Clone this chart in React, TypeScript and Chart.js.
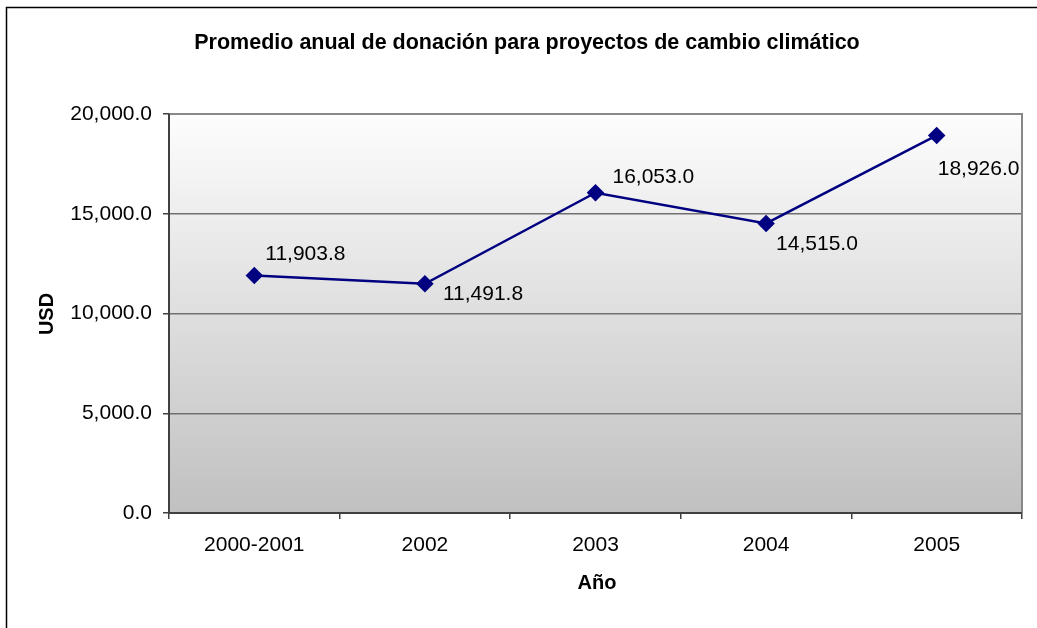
import React, { useEffect, useRef } from "react";
import { Chart, registerables } from "chart.js";

Chart.register(...registerables);

const categories = ["2000-2001", "2002", "2003", "2004", "2005"];
const donationValues = [11903.8, 11491.8, 16053.0, 14515.0, 18926.0];
const yTickValues = [0, 5000, 10000, 15000, 20000];
const chartTitle = "Promedio anual de donación para proyectos de cambio climático";
const xAxisTitle = "Año";
const yAxisTitle = "USD";
// label placement relative to point (style only)
const labelOffsets: [number, number][] = [
  [11, -22],
  [18, 9],
  [17, -17],
  [10, 20],
  [1, 33],
];

const fmt = (v: number) =>
  v.toLocaleString("en-US", { minimumFractionDigits: 1, maximumFractionDigits: 1 });

const FONT = "'Liberation Sans', Arial, sans-serif";

const decorPlugin = {
  id: "decor",
  beforeDraw(chart: any) {
    const { ctx, chartArea } = chart;
    const { left, top, right, bottom } = chartArea;
    ctx.save();
    ctx.fillStyle = "#ffffff";
    ctx.fillRect(0, 0, chart.width, chart.height);
    const g = ctx.createLinearGradient(0, top, 0, bottom);
    g.addColorStop(0, "#fdfdfd");
    g.addColorStop(1, "#c0c0c0");
    ctx.fillStyle = g;
    ctx.fillRect(left, top, right - left, bottom - top);
    // outer frame (left and top edges visible)
    ctx.strokeStyle = "#000000";
    ctx.lineWidth = 1.5;
    ctx.beginPath();
    ctx.moveTo(6.5, chart.height + 5);
    ctx.lineTo(6.5, 7.5);
    ctx.lineTo(chart.width + 5, 7.5);
    ctx.stroke();
    ctx.restore();
  },
  afterDraw(chart: any) {
    const { ctx, chartArea } = chart;
    const { left, top, right, bottom } = chartArea;
    ctx.save();
    // plot border top and right
    ctx.strokeStyle = "#888888";
    ctx.lineWidth = 2;
    ctx.beginPath();
    ctx.moveTo(left, top);
    ctx.lineTo(right, top);
    ctx.lineTo(right, bottom);
    ctx.stroke();
    // left axis & bottom axis
    ctx.strokeStyle = "#404040";
    ctx.beginPath();
    ctx.moveTo(left, top);
    ctx.lineTo(left, bottom);
    ctx.lineTo(right, bottom);
    ctx.stroke();

    // title
    ctx.fillStyle = "#000000";
    ctx.textAlign = "center";
    ctx.textBaseline = "middle";
    ctx.font = `bold 21.5px ${FONT}`;
    ctx.fillText(chartTitle, 527, 43);
    ctx.font = `bold 20px ${FONT}`;
    ctx.fillText(xAxisTitle, 597, 583);
    ctx.save();
    ctx.translate(47, 314);
    ctx.rotate(-Math.PI / 2);
    ctx.fillText(yAxisTitle, 0, 0);
    ctx.restore();

    // data labels
    const meta = chart.getDatasetMeta(0);
    ctx.font = `21px ${FONT}`;
    ctx.textAlign = "left";
    ctx.textBaseline = "middle";
    meta.data.forEach((pt: any, i: number) => {
      const [dx, dy] = labelOffsets[i];
      ctx.fillText(fmt(donationValues[i]), pt.x + dx, pt.y + dy + 1);
    });
    ctx.restore();
  },
};

export default function App() {
  const ref = useRef<HTMLCanvasElement>(null);
  useEffect(() => {
    if (!ref.current) return;
    const chart = new Chart(ref.current, {
      type: "line",
      data: {
        labels: categories,
        datasets: [
          {
            data: donationValues,
            borderColor: "#000080",
            backgroundColor: "#000080",
            borderWidth: 2.5,
            pointStyle: "rectRot",
            pointRadius: 7,
            pointHoverRadius: 7,
            pointBackgroundColor: "#000080",
            pointBorderColor: "#000080",
            tension: 0,
            fill: false,
          },
        ],
      },
      options: {
        responsive: false,
        animation: false,
        events: [],
        layout: { padding: { top: 114, right: 15, bottom: 35, left: 0 } },
        plugins: { legend: { display: false }, title: { display: false }, tooltip: { enabled: false } },
        scales: {
          x: {
            type: "category",
            offset: true,
            grid: {
              offset: true,
              drawOnChartArea: false,
              drawTicks: true,
              tickLength: 6,
              color: "#404040",
              lineWidth: 1.5,
            },
            border: { display: false },
            ticks: {
              color: "#000000",
              font: { family: FONT, size: 21 },
              padding: 14,
              maxRotation: 0,
              autoSkip: false,
            },
            afterFit(scale: any) {
              scale.height = 80;
            },
          },
          y: {
            min: 0,
            max: 20000,
            afterBuildTicks(scale: any) {
              scale.ticks = yTickValues.map((v) => ({ value: v }));
            },
            grid: {
              color: "#707070",
              lineWidth: 1.5,
              drawTicks: true,
              tickLength: 6,
              tickColor: "#404040",
            },
            border: { display: false },
            ticks: {
              color: "#000000",
              font: { family: FONT, size: 21 },
              padding: 11,
              callback: (v: any) => fmt(Number(v)),
            },
            afterFit(scale: any) {
              scale.width = 169;
            },
          },
        },
      },
      plugins: [decorPlugin],
    });
    return () => chart.destroy();
  }, []);
  return (
    <div style={{ position: "absolute", left: 0, top: 0, width: 1037, height: 628, overflow: "hidden", background: "#fff" }}>
      <canvas ref={ref} width={1037} height={628} style={{ display: "block" }} />
    </div>
  );
}
